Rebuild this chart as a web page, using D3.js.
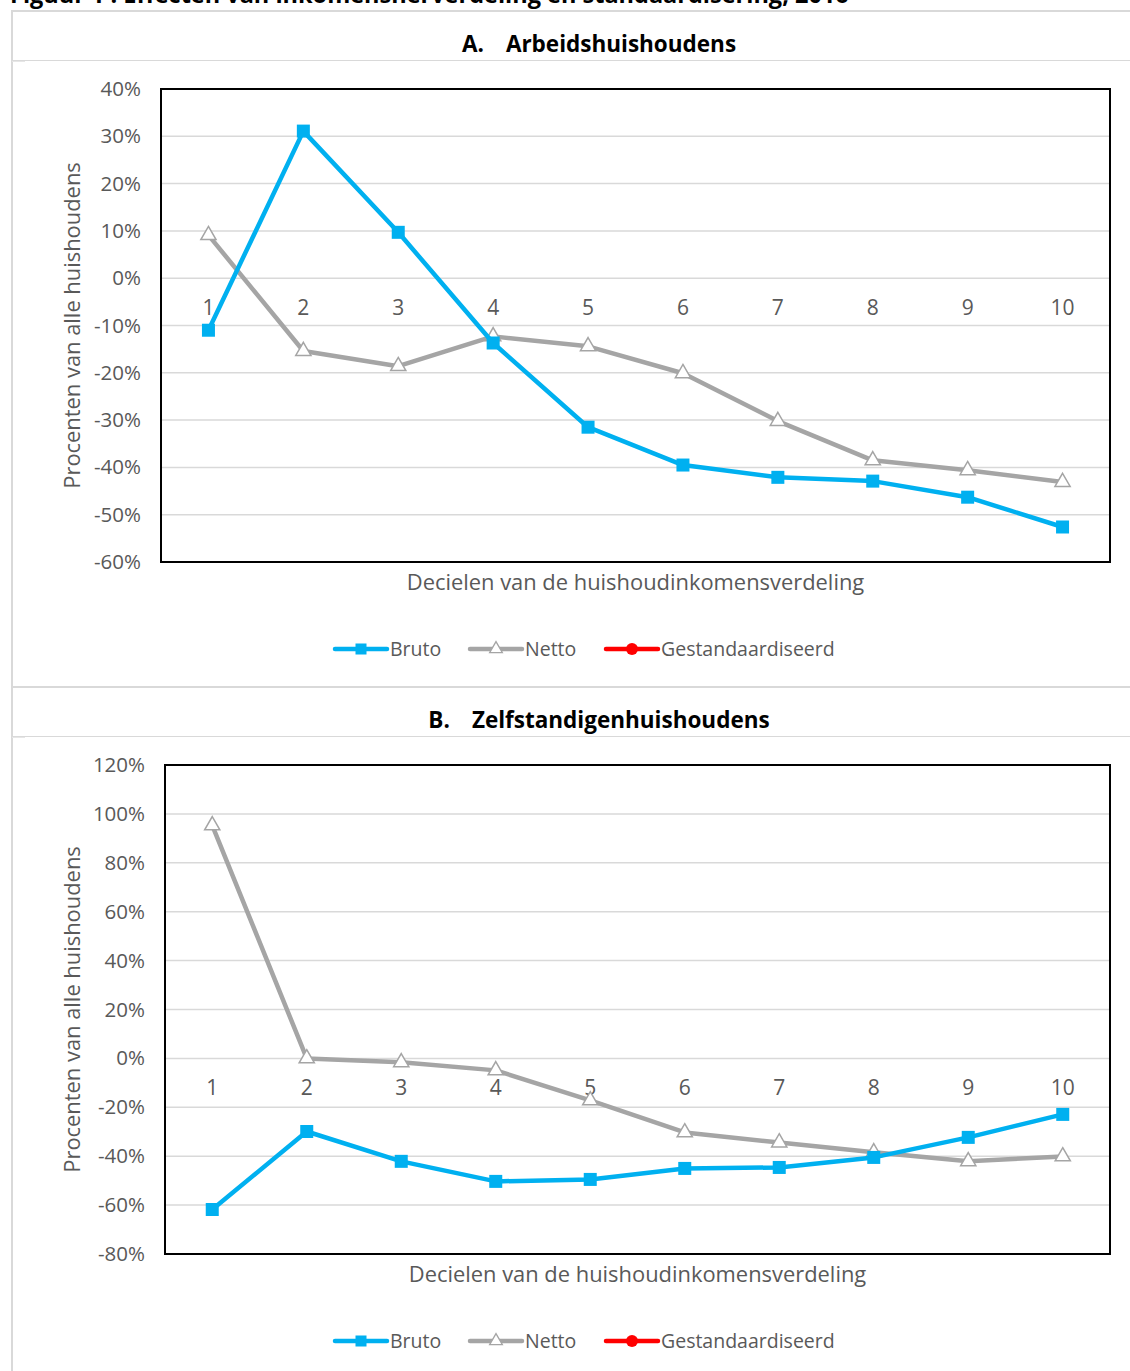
<!DOCTYPE html>
<html>
<head>
<meta charset="utf-8">
<script src="https://cdn.jsdelivr.net/npm/d3@7/dist/d3.min.js"></script>
<style>
    html, body { margin: 0; padding: 0; background: #fff; }
    svg { display: block; font-family: "Open Sans", Lato, sans-serif; }
</style>
</head>
<body>
<div id="chart"></div>
<script>
// Decile categories shared by both panels
var deciles = ["1", "2", "3", "4", "5", "6", "7", "8", "9", "10"];

// Panel A: Arbeidshuishoudens (percent)
var brutoA = [-11.0, 31.1, 9.7, -13.7, -31.5, -39.5, -42.1, -42.9, -46.3, -52.6];
var nettoA = [9.1, -15.4, -18.6, -12.3, -14.4, -20.1, -30.2, -38.5, -40.6, -43.1];
var gestA = [];
var ticksA = [40, 30, 20, 10, 0, -10, -20, -30, -40, -50, -60];

// Panel B: Zelfstandigenhuishoudens (percent)
var brutoB = [-61.8, -29.9, -42.1, -50.3, -49.5, -45.0, -44.6, -40.5, -32.3, -22.9];
var nettoB = [95.3, 0.0, -1.6, -4.9, -17.2, -30.3, -34.4, -38.4, -42.1, -40.1];
var gestB = [];
var ticksB = [120, 100, 80, 60, 40, 20, 0, -20, -40, -60, -80];

var seriesNames = ["Bruto", "Netto", "Gestandaardiseerd"];
var pageTitle = "Figuur 1 : Effecten van inkomensherverdeling en standaardisering, 2016";
var yTitle = "Procenten van alle huishoudens";
var xTitle = "Decielen van de huishoudinkomensverdeling";

var colors = { Bruto: "#00b0f0", Netto: "#a5a5a5", Gestandaardiseerd: "#ff0000" };
var textColor = "#595959";
var frameColor = "#d9d9d9";

var W = 1130, H = 1371;
var svg = d3.select("#chart").append("svg").attr("width", W).attr("height", H);

// page title, mostly cut off at the top
svg.append("text").attr("x", 10).attr("y", 3)
    .attr("font-size", 23.5).attr("font-weight", "bold").attr("fill", "#000")
    .text(pageTitle);

// outer frame
svg.append("line").attr("x1", 12).attr("x2", 12).attr("y1", 10).attr("y2", H)
    .attr("stroke", frameColor).attr("stroke-width", 2);
svg.append("line").attr("x1", 11).attr("x2", W).attr("y1", 11).attr("y2", 11)
    .attr("stroke", frameColor).attr("stroke-width", 2);
svg.append("line").attr("x1", 12).attr("x2", W).attr("y1", 687).attr("y2", 687)
    .attr("stroke", frameColor).attr("stroke-width", 2);
[60.5, 736.5].forEach(function (y) {
    svg.append("line").attr("x1", 12).attr("x2", W).attr("y1", y).attr("y2", y)
        .attr("stroke", frameColor).attr("stroke-width", 1.2);
    svg.append("line").attr("x1", 12).attr("x2", 25).attr("y1", y + 1).attr("y2", y + 1)
        .attr("stroke", "#e6e6e6").attr("stroke-width", 1);
});

function drawPanel(opts) {
    var self = {};
    self.params = opts;
    var p = self.params;
    var g = svg.append("g");

    // title
    var t = g.append("text").attr("x", 599).attr("y", p.titleY).attr("text-anchor", "middle")
        .attr("font-size", 22.5).attr("font-weight", "bold").attr("fill", "#000");
    t.append("tspan").text(p.letter);
    t.append("tspan").attr("dx", 22).text(p.title);

    var xScale = d3.scaleBand().domain(deciles).range([p.left, p.right]);
    var yScale = d3.scaleLinear().domain(p.domain).range([p.bottom, p.top]);

    // gridlines
    g.append("g").selectAll("line").data(p.ticks).join("line")
        .attr("x1", p.left).attr("x2", p.right)
        .attr("y1", function (d) { return yScale(d); }).attr("y2", function (d) { return yScale(d); })
        .attr("stroke", frameColor).attr("stroke-width", 1.5);

    // y axis labels
    var yAxis = d3.axisLeft(yScale).tickValues(p.ticks).tickSize(0).tickPadding(20)
        .tickFormat(function (d) { return d + "%"; });
    var ya = g.append("g").attr("transform", "translate(" + p.left + ",0)").call(yAxis);
    ya.select(".domain").remove();
    ya.selectAll("text").attr("font-size", 20.5).attr("fill", textColor)
        .attr("font-family", "'Open Sans', sans-serif");

    // x category labels sit just under the zero line
    var xAxis = d3.axisBottom(xScale).tickSize(0).tickPadding(22);
    var xa = g.append("g").attr("transform", "translate(0," + yScale(0) + ")").call(xAxis);
    xa.select(".domain").remove();
    xa.selectAll("text").attr("font-size", 21).attr("fill", textColor)
        .attr("font-family", "'Open Sans', sans-serif");

    // plot border
    g.append("rect").attr("x", p.left).attr("y", p.top)
        .attr("width", p.right - p.left).attr("height", p.bottom - p.top)
        .attr("fill", "none").attr("stroke", "#000").attr("stroke-width", 2);

    // axis titles
    g.append("text").attr("transform", "translate(80," + ((p.top + p.bottom) / 2) + ") rotate(-90)")
        .attr("text-anchor", "middle").attr("font-size", 21.9).attr("fill", textColor).text(yTitle);
    g.append("text").attr("x", (p.left + p.right) / 2).attr("y", p.bottom + 28)
        .attr("text-anchor", "middle").attr("font-size", 21.9).attr("fill", textColor).text(xTitle);

    var line = d3.line()
        .x(function (d, i) { return xScale(deciles[i]) + xScale.bandwidth() / 2; })
        .y(function (d) { return yScale(d); });

    var series = [
        { name: "Bruto", values: p.bruto },
        { name: "Netto", values: p.netto },
        { name: "Gestandaardiseerd", values: p.gest }
    ];

    // draw netto first so bruto sits on top like the original
    [series[1], series[0], series[2]].forEach(function (s) {
        if (!s.values.length) { return; }
        g.append("path").datum(s.values).attr("d", line)
            .attr("fill", "none").attr("stroke", colors[s.name]).attr("stroke-width", 4.5)
            .attr("stroke-linejoin", "round");
        var pts = g.append("g").selectAll("g").data(s.values).join("g")
            .attr("transform", function (d, i) {
                return "translate(" + (xScale(deciles[i]) + xScale.bandwidth() / 2) + "," + yScale(d) + ")";
            });
        if (s.name === "Bruto") {
            pts.append("rect").attr("x", -6.5).attr("y", -6.5).attr("width", 13).attr("height", 13)
                .attr("fill", colors.Bruto);
        } else if (s.name === "Netto") {
            pts.append("path").attr("d", d3.symbol(d3.symbolTriangle, 100))
                .attr("fill", "#fff").attr("stroke", colors.Netto).attr("stroke-width", 1.5);
        } else {
            pts.append("circle").attr("r", 5).attr("fill", colors.Gestandaardiseerd);
        }
    });

    // legend
    var legendX = [335, 470, 606];
    var lg = g.append("g").attr("transform", "translate(0," + p.legendY + ")");
    seriesNames.forEach(function (name, i) {
        var x0 = legendX[i];
        lg.append("line").attr("x1", x0).attr("x2", x0 + 52).attr("y1", 0).attr("y2", 0)
            .attr("stroke", colors[name]).attr("stroke-width", 4.5).attr("stroke-linecap", "round");
        var cx = x0 + 26;
        if (name === "Bruto") {
            lg.append("rect").attr("x", cx - 5.5).attr("y", -5.5).attr("width", 11).attr("height", 11)
                .attr("fill", colors.Bruto);
        } else if (name === "Netto") {
            lg.append("path").attr("transform", "translate(" + cx + ",0)")
                .attr("d", d3.symbol(d3.symbolTriangle, 70))
                .attr("fill", "#fff").attr("stroke", colors.Netto).attr("stroke-width", 1.3);
        } else {
            lg.append("circle").attr("cx", cx).attr("cy", 0).attr("r", 6).attr("fill", colors[name]);
        }
        lg.append("text").attr("x", x0 + 55).attr("y", 0).attr("dy", "0.35em")
            .attr("font-size", 19.5).attr("fill", textColor).text(name);
    });
    return self;
}

drawPanel({
    letter: "A.", title: "Arbeidshuishoudens", titleY: 52,
    left: 161, right: 1110, top: 89, bottom: 562,
    domain: [-60, 40], ticks: ticksA,
    bruto: brutoA, netto: nettoA, gest: gestA,
    legendY: 649
});

drawPanel({
    letter: "B.", title: "Zelfstandigenhuishoudens", titleY: 728,
    left: 165, right: 1110, top: 765, bottom: 1254,
    domain: [-80, 120], ticks: ticksB,
    bruto: brutoB, netto: nettoB, gest: gestB,
    legendY: 1341
});
</script>
</body>
</html>
